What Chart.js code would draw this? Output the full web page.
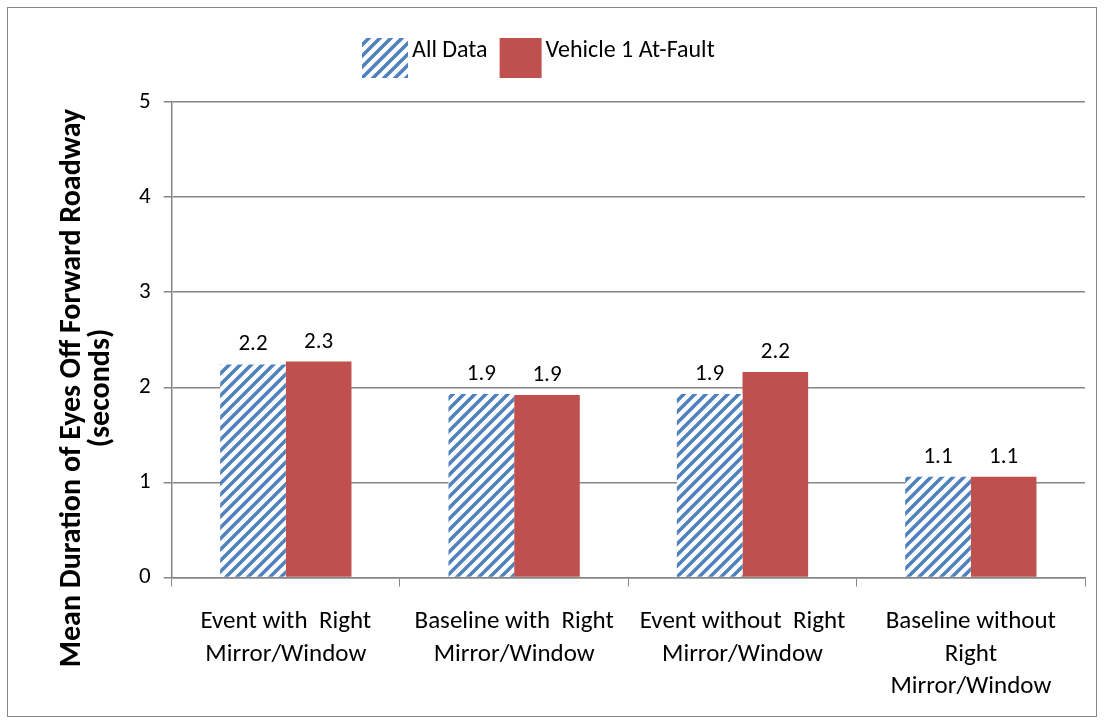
<!DOCTYPE html>
<html>
<head>
<meta charset="utf-8">
<script src="https://cdn.jsdelivr.net/npm/chart.js@4/dist/chart.umd.min.js"></script>
<style>
  html, body { margin: 0; padding: 0; background: #fff; }
  #wrap { position: absolute; left: 0; top: 0; width: 1104px; height: 724px; }
</style>
</head>
<body>
<div id="wrap"><canvas id="c" width="1104" height="724"></canvas></div>
<script>
const categories = [
  ["Event with  Right", "Mirror/Window"],
  ["Baseline with  Right", "Mirror/Window"],
  ["Event without  Right", "Mirror/Window"],
  ["Baseline without", "Right", "Mirror/Window"]
];
const seriesNames = ["All Data", "Vehicle 1 At-Fault"];
const allData = [2.24, 1.93, 1.93, 1.06];
const vehicle1AtFault = [2.27, 1.92, 2.16, 1.06];
const yTicks = [0, 1, 2, 3, 4, 5];
const yTitleLines = ["Mean Duration of Eyes Off Forward Roadway", "(seconds)"];

const FONT = "Carlito, 'Liberation Sans Narrow', 'Liberation Sans', sans-serif";

function makeHatch() {
  const s = 11;
  const t = document.createElement('canvas');
  t.width = s; t.height = s;
  const g = t.getContext('2d');
  g.fillStyle = '#ffffff';
  g.fillRect(0, 0, s, s);
  g.strokeStyle = '#4F81BD';
  g.lineWidth = 3.5;
  g.beginPath();
  g.moveTo(-2, s + 2); g.lineTo(s + 2, -2);
  g.moveTo(-s - 2, s + 2); g.lineTo(2, -2);
  g.moveTo(s - 2, s + 2); g.lineTo(2 * s + 2, -2);
  g.stroke();
  return document.getElementById('c').getContext('2d').createPattern(t, 'repeat');
}
const hatch = makeHatch();

const borderPlugin = {
  id: 'outerBorder',
  beforeDraw(chart) {
    const ctx = chart.ctx;
    ctx.save();
    ctx.fillStyle = '#fff';
    ctx.fillRect(0, 0, chart.width, chart.height);
    ctx.strokeStyle = '#868686';
    ctx.lineWidth = 1;
    ctx.strokeRect(7.5, 7.5, 1089, 709);
    ctx.restore();
  }
};

// y-axis title, placed like the original (centred lower than the plot area)
const yTitle = {
  id: 'yTitle',
  afterDraw(chart) {
    const ctx = chart.ctx;
    ctx.save();
    ctx.font = "bold 30px " + FONT;
    ctx.fillStyle = '#000';
    ctx.textAlign = 'center';
    ctx.textBaseline = 'middle';
    ctx.translate(0, 388);
    ctx.rotate(-Math.PI / 2);
    ctx.fillText(yTitleLines[0], 0, 72);
    ctx.fillText(yTitleLines[1], 0, 101);
    ctx.restore();
  }
};

// legend drawn from the datasets (box then label, tight spacing)
const topLegend = {
  id: 'topLegend',
  afterDraw(chart) {
    const ctx = chart.ctx;
    ctx.save();
    ctx.font = "24px " + FONT;
    ctx.textBaseline = 'middle';
    ctx.fillStyle = '#000';
    const boxW = [46, 42], boxH = 40, gap = 4, itemGap = 12, top = 38;
    let x = 362;
    chart.data.datasets.forEach((ds, i) => {
      ctx.fillStyle = ds.backgroundColor;
      ctx.fillRect(x, top, boxW[i], boxH);
      ctx.fillStyle = '#000';
      ctx.textAlign = 'left';
      ctx.fillText(ds.label, x + boxW[i] + gap, top + 13);
      x += boxW[i] + gap + ctx.measureText(ds.label).width + itemGap;
    });
    ctx.restore();
  }
};

const valueLabels = {
  id: 'valueLabels',
  afterDatasetsDraw(chart) {
    const ctx = chart.ctx;
    ctx.save();
    ctx.font = "23px " + FONT;
    ctx.fillStyle = '#000';
    ctx.textAlign = 'center';
    ctx.textBaseline = 'alphabetic';
    chart.data.datasets.forEach((ds, i) => {
      chart.getDatasetMeta(i).data.forEach((bar, j) => {
        ctx.fillText(ds.data[j].toFixed(1), bar.x, bar.y - 14);
      });
    });
    ctx.restore();
  }
};

new Chart(document.getElementById('c'), {
  type: 'bar',
  data: {
    labels: categories,
    datasets: [
      { label: seriesNames[0], data: allData, backgroundColor: hatch, borderWidth: 0 },
      { label: seriesNames[1], data: vehicle1AtFault, backgroundColor: '#C0504D', borderWidth: 0 }
    ]
  },
  options: {
    responsive: false,
    animation: false,
    devicePixelRatio: 1,
    layout: { padding: { left: 126, right: 19, top: 102, bottom: 2 } },
    datasets: { bar: { categoryPercentage: 0.575, barPercentage: 1.0 } },
    plugins: {
      legend: { display: false },
      tooltip: { enabled: false }
    },
    scales: {
      x: {
        offset: true,
        grid: { display: true, drawOnChartArea: false, drawTicks: true, tickLength: 9, offset: true, color: '#868686' },
        border: { display: true, color: '#868686', width: 1.5 },
        ticks: { color: '#000', font: { family: FONT, size: 25, lineHeight: 1.3 }, padding: 19, maxRotation: 0, autoSkip: false }
      },
      y: {
        min: 0, max: 5,
        afterBuildTicks(scale) { scale.ticks = yTicks.map(v => ({ value: v })); },
        grid: { color: '#868686', lineWidth: 1.5, drawTicks: true, tickLength: 8 },
        border: { display: true, color: '#868686', width: 1.5 },
        ticks: { color: '#000', font: { family: FONT, size: 23 }, padding: 13 },
        title: { display: false }
      }
    }
  },
  plugins: [borderPlugin, valueLabels, topLegend, yTitle]
});
</script>
</body>
</html>
